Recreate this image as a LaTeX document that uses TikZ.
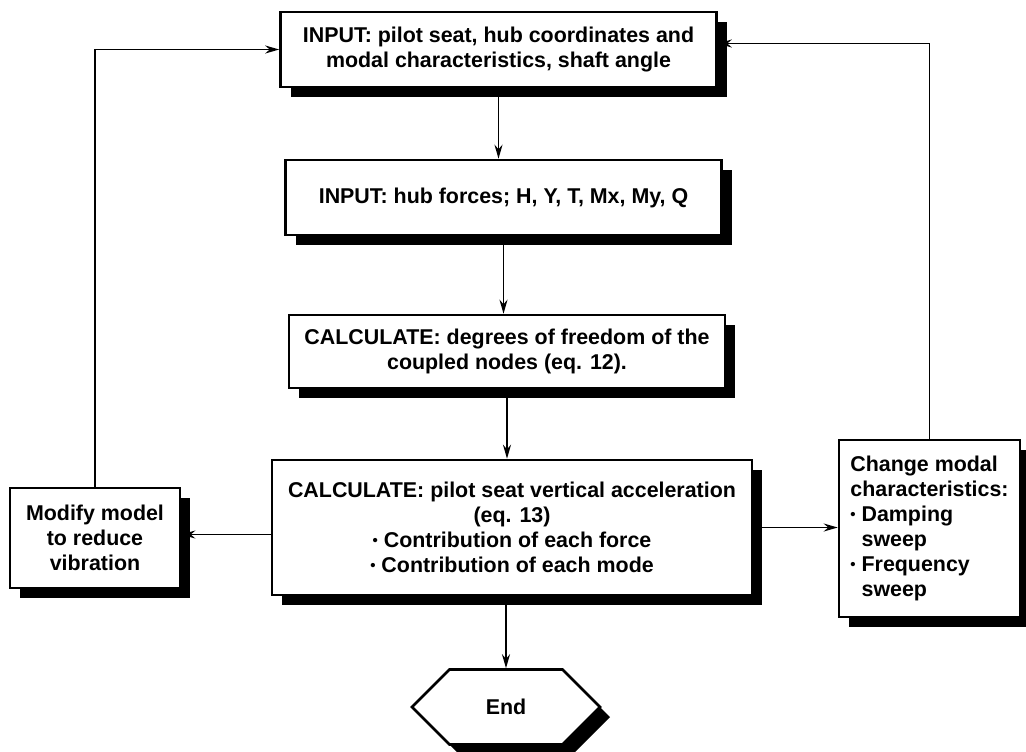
\documentclass[tikz,border=0pt]{standalone}
\usepackage{fontspec}
\setmainfont{Liberation Sans}
\usetikzlibrary{shapes.symbols,shadows,arrows.meta}
\tikzset{
  box/.style={draw, line width=1.3pt, fill=white, align=center, inner sep=3pt,
    font=\bfseries\fontsize{10.7}{12.5}\selectfont,
    drop shadow={shadow xshift=5pt, shadow yshift=-5pt, opacity=1, fill=black}},
  link/.style={->, line width=0.9pt},
}
\newcommand{\bul}{\raisebox{0.15ex}{\fontsize{7.5}{7.5}\selectfont\textbullet}}
\begin{document}
\begin{tikzpicture}[x=0.5pt, y=-0.5pt, >={Stealth[length=7pt,width=4pt]}]
  \useasboundingbox (0,0) rectangle (1026,751);
  \node[box, minimum width=218pt, minimum height=37.5pt] (seat) at (498.5,49.5)
    {INPUT: pilot seat, hub coordinates and\\modal characteristics, shaft angle};
  \node[box, minimum width=218pt, minimum height=37.5pt] (hub) at (503.5,197.5)
    {INPUT: hub forces; H, Y, T, Mx, My, Q};
  \node[box, minimum width=218pt, minimum height=36.5pt] (dof) at (507,351.5)
    {CALCULATE: degrees of freedom of the\\coupled nodes (eq. 12).};
  \node[box, minimum width=240pt, minimum height=67.5pt] (accel) at (512,527.5)
    {CALCULATE: pilot seat vertical acceleration\\(eq. 13)\\\bul{} Contribution of each force\\\bul{} Contribution of each mode};
  \node[box, minimum width=85pt, minimum height=50pt] (modify) at (95,538)
    {Modify model\\to reduce\\vibration};
  \node[box, minimum width=90.5pt, minimum height=88.5pt, align=left] (change) at (929.5,528.5)
    {Change modal\\characteristics:\\\bul{} Damping\\\phantom{\bul{} }sweep\\\bul{} Frequency\\\phantom{\bul{} }sweep};
  \node[box, shape=signal, signal to=west and east, signal pointer angle=90,
    minimum width=94pt, minimum height=37.5pt] (end) at (506,707) {End};

  \draw[link] (seat.south) -- (seat.south |- hub.north);
  \draw[link] (hub.south) -- (hub.south |- dof.north);
  \draw[link] (dof.south) -- (dof.south |- accel.north);
  \draw[link] (end.north |- accel.south) -- (end.north);
  \draw[link] ([yshift=-3.5pt]accel.west) -- ([yshift=-3.5pt]accel.west -| modify.east);
  \draw[link] (accel.east) -- (accel.east -| change.west);
  \draw[link] (modify.north) |- (seat.west);
  \draw[link] (change.north) |- ([yshift=3pt]seat.east);
\end{tikzpicture}
\end{document}
